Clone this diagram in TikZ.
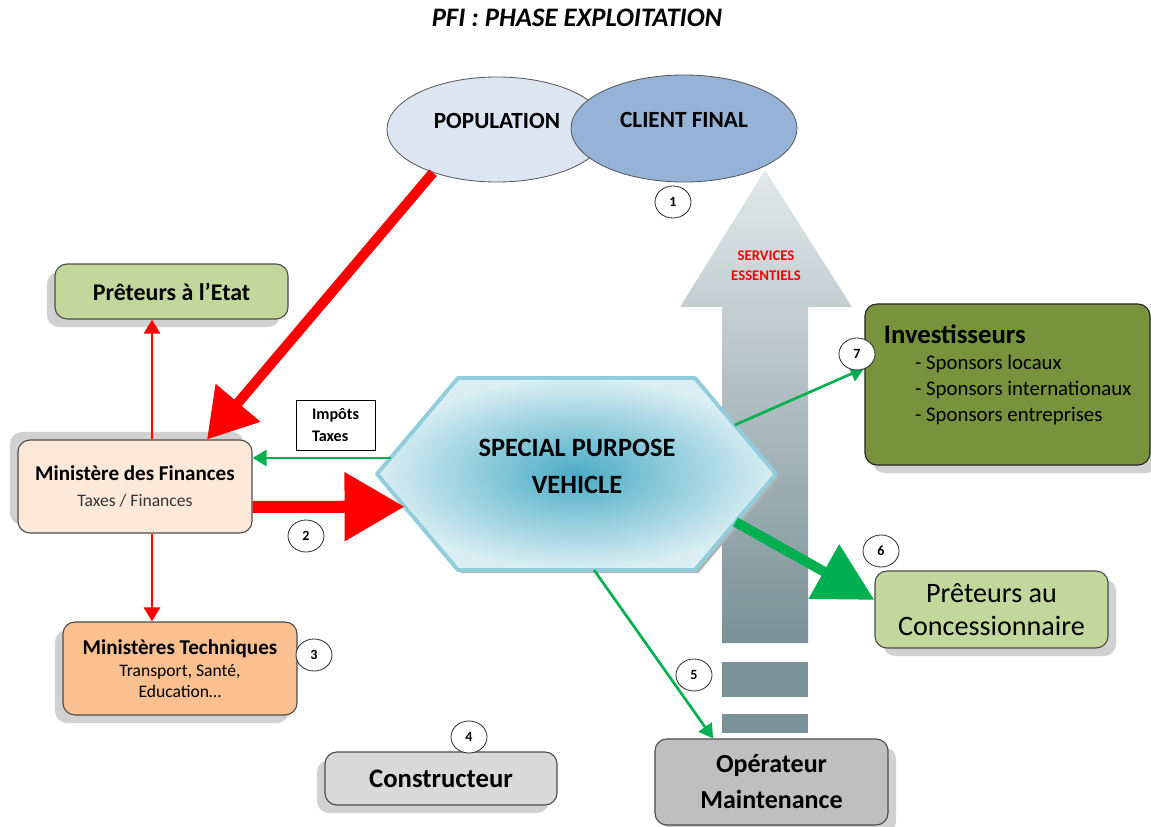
\documentclass[tikz,border=0pt]{standalone}
\usepackage{fontspec}
\setmainfont{Carlito}
\usetikzlibrary{arrows.meta,shapes.geometric,shadows,calc}

\definecolor{popfill}{HTML}{DCE6F2}
\definecolor{clientfill}{HTML}{95B3D7}
\definecolor{vertclair}{HTML}{C3D69B}
\definecolor{vertolive}{HTML}{77933C}
\definecolor{peche}{HTML}{FDE9D9}
\definecolor{orangeclair}{HTML}{FAC090}
\definecolor{grisclair}{HTML}{D9D9D9}
\definecolor{grisop}{HTML}{BFBFBF}
\definecolor{bleubord}{HTML}{92CDDC}
\definecolor{bleucentre}{HTML}{4BACC6}
\definecolor{bleupale}{HTML}{DAEEF3}
\definecolor{vertfleche}{HTML}{00B050}
\definecolor{flechehaut}{HTML}{E2E8E9}
\definecolor{flechebas}{HTML}{7A9197}

\begin{document}
\begin{tikzpicture}[x=0.025cm,y=-0.025cm,line join=round,
  boite/.style={draw=black!70,line width=0.8pt,rounded corners=0.3cm,align=center,inner sep=0pt},
  ombrebg/.style={drop shadow={shadow xshift=-0.2cm,shadow yshift=-0.2cm,fill=black!18,opacity=1}},
  ombrehg/.style={drop shadow={shadow xshift=-0.2cm,shadow yshift=0.2cm,fill=black!18,opacity=1}},
  ombrebd/.style={drop shadow={shadow xshift=0.2cm,shadow yshift=-0.2cm,fill=black!18,opacity=1}},
  numero/.style={ellipse,draw=black!80,line width=0.6pt,fill=white,minimum width=0.9cm,minimum height=0.8cm,inner sep=0pt,font=\fontsize{10}{12}\selectfont\bfseries},
  bulle/.style={ellipse,draw=black!65,line width=0.6pt,inner sep=0pt,text depth=0.45cm,font=\fontsize{16.5}{19}\selectfont\bfseries},
  rougefin/.style={draw=red,line width=2.1pt,-{Triangle[width=0.4cm,length=0.35cm]}},
  rougeepais/.style={draw=red,line width=0.25cm,-{Triangle[width=1.4cm,length=1.2cm]}},
  vertfin/.style={draw=vertfleche,line width=1.9pt,-{Triangle[width=0.4cm,length=0.35cm]}},
  vertepais/.style={draw=vertfleche,line width=0.25cm,-{Triangle[width=1.5cm,length=1.45cm]}}]
\useasboundingbox (0,0) rectangle (1151,827);
\node (titre) at (577,18) {\fontsize{19}{22}\selectfont\bfseries\itshape PFI : PHASE EXPLOITATION};

% grande fleche des services
\shade[top color=flechehaut,bottom color=flechebas] (765,170) -- (852,307) -- (808,307) -- (808,643)
  -- (722,643) -- (722,307) -- (680,307) -- cycle;
\fill[flechebas] (722,662) rectangle (808,697);
\fill[flechebas] (722,714) rectangle (808,733);
\node[text=red,align=center,font=\fontsize{10.5}{14}\selectfont\bfseries] (services) at (766,266) {SERVICES\\ESSENTIELS};

\node[bulle,fill=popfill,minimum width=5.5cm,minimum height=2.625cm] (population) at (497,129.5) {POPULATION};
\node[bulle,fill=clientfill,minimum width=5.65cm,minimum height=2.675cm] (client) at (684,128.5) {CLIENT FINAL};

\node[boite,ombrebg,fill=vertclair,minimum width=5.825cm,minimum height=1.375cm,font=\fontsize{17}{20}\selectfont\bfseries] (etat) at (171.5,291.5) {Prêteurs à l’Etat};
\node[boite,ombrehg,fill=peche,minimum width=5.85cm,minimum height=2.325cm] (finances) at (135,486.5)
  {\fontsize{15}{19}\selectfont\bfseries Ministère des Finances\\[7pt] \fontsize{12.5}{15}\selectfont\color{black!80}Taxes / Finances};
\node[boite,ombrebg,fill=orangeclair,minimum width=5.85cm,minimum height=2.325cm] (techniques) at (180,668.5)
  {\fontsize{15}{17}\selectfont\bfseries Ministères Techniques\\[4pt] \fontsize{12.5}{16}\selectfont Transport, Santé,\\[3pt] \fontsize{12.5}{16}\selectfont Education…};
\node[boite,ombrebg,fill=grisclair,minimum width=5.8cm,minimum height=1.325cm,font=\fontsize{19}{22}\selectfont\bfseries] (constructeur) at (441,778.5) {Constructeur};
\node[boite,ombrebd,fill=grisop,minimum width=5.825cm,minimum height=2.15cm,font=\fontsize{18.5}{25.6}\selectfont\bfseries] (operateur) at (771.5,782) {Opérateur\\Maintenance};
\node[boite,ombrebd,fill=vertclair,minimum width=5.825cm,minimum height=1.925cm,font=\fontsize{20}{23.5}\selectfont] (concess) at (991.5,609.5) {Prêteurs au\\Concessionnaire};
\node[boite,ombrebd,draw=black!85,fill=vertolive,minimum width=7.125cm,minimum height=4.025cm] (invest) at (1007.5,384.5) {};
\node[anchor=north west,align=left,inner sep=0pt,font=\fontsize{14.8}{18.5}\selectfont] (investtexte) at ([xshift=0.48cm,yshift=-0.53cm]invest.north west)
  {{\fontsize{19}{19}\selectfont\bfseries Investisseurs}\\
   \hspace*{0.78cm}- Sponsors locaux\\
   \hspace*{0.78cm}- Sponsors internationaux\\
   \hspace*{0.78cm}- Sponsors entreprises};

% vehicule
\coordinate (spvO) at (377,474);
\coordinate (spvNO) at (458,378);
\coordinate (spvNE) at (695,378);
\coordinate (spvE) at (776,474);
\coordinate (spvSE) at (695,570);
\coordinate (spvSO) at (458,570);
\fill[black!30] ([shift={(0.08cm,-0.08cm)}]spvO) -- ([shift={(0.08cm,-0.08cm)}]spvNO) -- ([shift={(0.08cm,-0.08cm)}]spvNE)
  -- ([shift={(0.08cm,-0.08cm)}]spvE) -- ([shift={(0.08cm,-0.08cm)}]spvSE) -- ([shift={(0.08cm,-0.08cm)}]spvSO) -- cycle;
\shadedraw[inner color=bleucentre,outer color=bleupale,draw=bleubord,line width=2.8pt]
  (spvO) -- (spvNO) -- (spvNE) -- (spvE) -- (spvSE) -- (spvSO) -- cycle;
\node[align=center,font=\fontsize{18.8}{26}\selectfont\bfseries] (spv) at (577,466.5) {SPECIAL PURPOSE\\VEHICLE};

\node[draw=black,line width=0.6pt,fill=white,minimum width=1.975cm,minimum height=1.25cm,align=left,font=\fontsize{11.5}{15.6}\selectfont\bfseries] (impots) at (335.5,425) {Impôts\\Taxes};

% fleches
\draw[rougeepais] (population.214) -- ([xshift=1.8cm]finances.north);
\coordinate (axe) at ([xshift=0.425cm]finances.north);
\draw[rougefin] (axe) -- (axe |- etat.south);
\draw[rougefin] (axe |- finances.south) -- (axe |- techniques.north);
\draw[rougeepais,line width=0.3cm,-{Triangle[width=1.65cm,length=1.5cm]}] ([yshift=-0.51cm]finances.east) -- ($(spvO)!0.34!(spvSO)$);
\coordinate (impA) at ($(spvO)!0.167!(spvNO)$);
\draw[vertfin] (impA) -- (impA -| finances.east);
\draw[vertfin] ($(spvNE)!0.49!(spvE)$) -- ([yshift=0.41cm]invest.west);
\draw[vertepais] ($(spvE)!0.5!(spvSE)$) -- ([yshift=0.24cm]concess.west);
\draw[vertfin] ($(spvSO)!0.574!(spvSE)$) -- ([xshift=-1.46cm]operateur.north);

\node[numero] (n1) at (673,202) {1};
\node[numero] (n2) at (306,536) {2};
\node[numero] (n3) at (314,655) {3};
\node[numero] (n4) at (469,737) {4};
\node[numero] (n5) at (694,675) {5};
\node[numero] (n6) at (881,551) {6};
\node[numero] (n7) at (857,354) {7};
\end{tikzpicture}
\end{document}
